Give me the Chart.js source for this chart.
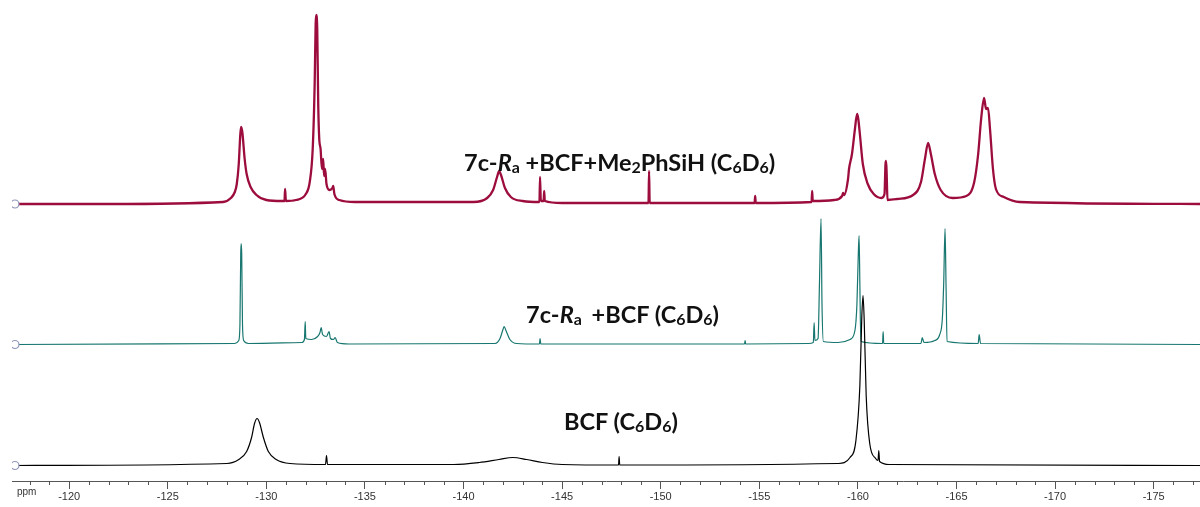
<!DOCTYPE html>
<html>
<head>
<meta charset="utf-8">
<script src="https://cdn.jsdelivr.net/npm/chart.js@4.4.1/dist/chart.umd.min.js"></script>
<style>
  html, body { margin: 0; padding: 0; background: #fff; }
  #wrap { position: relative; width: 1200px; height: 507px; }
  .lbl { position: absolute; font-family: Lato, "Open Sans", sans-serif; font-weight: 700;
         font-size: 23.5px; line-height: 23.5px; color: #111; white-space: nowrap; }
  .lbl sub { font-size: 0.68em; vertical-align: -0.12em; line-height: 0; }
  .gap { margin-left: 4px; }
  #ppm { position: absolute; left: 17px; top: 486px; font-family: "Liberation Sans", Arial, sans-serif;
         font-size: 10px; color: #333; }
</style>
</head>
<body>
<div id="wrap">
  <canvas id="nmr" width="1200" height="507"></canvas>
  <div class="lbl" style="left:464px; top:151px;">7c-<i>R</i><sub>a</sub> +BCF+Me<sub>2</sub>PhSiH (C<sub>6</sub>D<sub>6</sub>)</div>
  <div class="lbl" style="left:526px; top:303px;">7c-<i>R</i><sub>a</sub> <span class="gap">+BCF (C<sub>6</sub>D<sub>6</sub>)</span></div>
  <div class="lbl" style="left:564px; top:410px;">BCF (C<sub>6</sub>D<sub>6</sub>)</div>
  <div id="ppm">ppm</div>
</div>
<script>
// 19F NMR traces: chemical shift (ppm) and height above baseline
const redPpm = [-117.25, -122.0, -127.8, -128.2, -128.4, -128.5, -128.6, -128.68, -128.72, -128.78, -128.9, -129.0, -129.2, -129.5, -130.0,
  -130.8, -130.92, -130.95, -130.99, -131.5, -132.0, -132.2, -132.35, -132.45, -132.5, -132.53, -132.58, -132.63, -132.68,
  -132.75, -132.82, -132.88, -132.93, -132.98, -133.05, -133.2, -133.35, -133.39, -133.45, -133.7, -134.5, -140.5, -141.2,
  -141.5, -141.7, -141.81, -141.9, -142.1, -142.4, -143.0, -143.85, -143.88, -143.92, -144.06, -144.09, -144.12, -145.0,
  -149.38, -149.41, -149.44, -154.76, -154.79, -154.82, -157.65, -157.68, -157.71, -158.8, -159.2, -159.25, -159.3, -159.5,
  -159.55, -159.7, -159.85, -159.96, -160.02, -160.1, -160.25, -160.5, -160.8, -161.2, -161.35, -161.4, -161.43, -161.46,
  -161.5, -162.0, -162.8, -163.2, -163.4, -163.56, -163.7, -163.9, -164.2, -164.8, -165.5, -165.9, -166.1, -166.25, -166.4,
  -166.5, -166.6, -166.7, -166.85, -167.0, -167.4, -168.2, -177.35];
const redInt = [0, 0, 2, 6, 12, 20, 40, 70, 77, 72, 45, 30, 17, 9, 4,
  3, 3, 15, 3, 4, 10, 22, 55, 120, 180, 189, 175, 100, 66,
  55, 35, 45, 28, 35, 20, 14, 16, 18, 10, 4, 2, 2, 6,
  14, 27, 33, 29, 16, 7, 3, 2, 27, 3, 3, 13, 3, 1,
  1, 33, 1, 1, 8, 1, 2, 13, 3, 4, 8, 11, 9, 25,
  35, 50, 75, 90, 85, 70, 40, 20, 10, 6, 10, 40, 43, 30,
  4, 5, 9, 22, 45, 61, 50, 30, 14, 6, 8, 22, 50, 85, 106,
  95, 96, 75, 35, 15, 7, 2, 0];

const tealPpm = [-117.25, -128.4, -128.6, -128.66, -128.7, -128.72, -128.75, -128.79, -128.85, -129.1, -131.8, -131.93, -131.97, -132.0,
  -132.3, -132.6, -132.72, -132.78, -132.85, -133.05, -133.18, -133.25, -133.4, -133.49, -133.6, -134.2, -141.6, -141.85,
  -142.0, -142.06, -142.15, -142.35, -142.7, -143.85, -143.88, -143.92, -154.25, -154.28, -154.31, -157.5, -157.74, -157.78,
  -157.82, -157.98, -158.05, -158.13, -158.18, -158.25, -159.0, -159.6, -159.85, -159.95, -160.02, -160.06, -160.1, -160.15,
  -161.25, -161.28, -161.31, -163.2, -163.26, -163.35, -163.9, -164.15, -164.28, -164.35, -164.42, -164.47, -164.52, -166.1,
  -166.15, -166.22, -177.35];
const tealInt = [0, 1, 4, 20, 90, 101, 90, 20, 4, 1, 2, 5, 23, 6,
  5, 8, 12, 17, 10, 8, 13, 6, 5, 7, 2, 0.5, 1, 6,
  15, 18, 14, 5, 1, 0.5, 6, 0.5, 0.5, 4, 0.5, 1, 2, 22,
  4, 6, 60, 126, 40, 3, 2, 5, 14, 40, 90, 109, 60, 3,
  1, 13, 1, 1, 7, 2, 4, 10, 25, 60, 116, 60, 3, 1,
  10, 1, 0];

const blackPpm = [-117.25, -128.0, -128.6, -129.0, -129.25, -129.4, -129.53, -129.65, -129.85, -130.1, -130.5, -131.2, -133.0, -133.05,
  -133.1, -139.5, -140.8, -141.8, -142.5, -143.2, -144.0, -145.0, -147.86, -147.89, -147.92, -159.0, -159.6, -159.9,
  -160.1, -160.2, -160.26, -160.32, -160.42, -160.6, -160.9, -161.02, -161.06, -161.1, -161.6, -177.35];
const blackInt = [0, 2, 6, 14, 28, 42, 47, 43, 28, 14, 6, 2, 1, 10,
  1, 1, 3, 6, 8, 6, 3, 1, 0.5, 9, 0.5, 2, 8, 25,
  80, 150, 170, 145, 70, 22, 7, 5, 15, 4, 1, 0];

// x axis range and labelled ticks
const ppmLeft = -117.1;
const ppmRight = -177.35;
const majorStep = 5;

// vertical stacking of the three traces
const blackOffset = 15.5;
const tealOffset = 136.5;
const redOffset = 277;

function toPoints(ppm, intensity, offset) {
  return ppm.map((p, i) => ({ x: p, y: intensity[i] + offset }));
}

function trace(points, color, width) {
  return {
    data: points,
    borderColor: color,
    borderWidth: width,
    cubicInterpolationMode: 'monotone',
    pointRadius: ctx => ctx.dataIndex === 0 ? 4 : 0,
    pointBorderColor: '#8e94b8',
    pointBorderWidth: 1.2,
    pointBackgroundColor: '#fff',
    fill: false
  };
}

// 1 ppm minor ticks under the axis
const minorTicks = {
  id: 'minorTicks',
  afterDraw(chart) {
    const s = chart.scales.x;
    const c = chart.ctx;
    c.save();
    c.strokeStyle = '#555';
    c.lineWidth = 1;
    c.beginPath();
    for (let v = Math.ceil(s.min); v <= s.max; v++) {
      if (v % majorStep === 0) continue;
      const px = Math.round(s.getPixelForValue(v)) + 0.5;
      c.moveTo(px, s.top);
      c.lineTo(px, s.top + 4);
    }
    c.stroke();
    c.restore();
  }
};

const ctx = document.getElementById('nmr').getContext('2d');
const myChart = new Chart(ctx, {
  type: 'line',
  data: {
    datasets: [
      trace(toPoints(blackPpm, blackInt, blackOffset), '#000000', 1.2),
      trace(toPoints(tealPpm, tealInt, tealOffset), '#17766f', 1.2),
      trace(toPoints(redPpm, redInt, redOffset), '#9c0c3c', 2.3)
    ]
  },
  options: {
    responsive: false,
    animation: false,
    devicePixelRatio: 1,
    layout: { autoPadding: false, padding: { left: 12, right: 0, top: 0, bottom: 0 } },
    plugins: { legend: { display: false }, tooltip: { enabled: false } },
    scales: {
      x: {
        type: 'linear',
        reverse: true,
        min: ppmRight,
        max: ppmLeft,
        afterFit(s) { s.height = 26; },
        border: { display: true, color: '#555', width: 1 },
        grid: { display: true, drawOnChartArea: false, drawTicks: true, tickLength: 8, color: '#555' },
        ticks: {
          stepSize: majorStep,
          includeBounds: false,
          autoSkip: false,
          maxRotation: 0,
          padding: 1,
          color: '#333',
          font: { family: 'Liberation Sans', size: 11 }
        }
      },
      y: { display: false, min: 0, max: 481 }
    }
  },
  plugins: [minorTicks]
});
</script>
</body>
</html>
